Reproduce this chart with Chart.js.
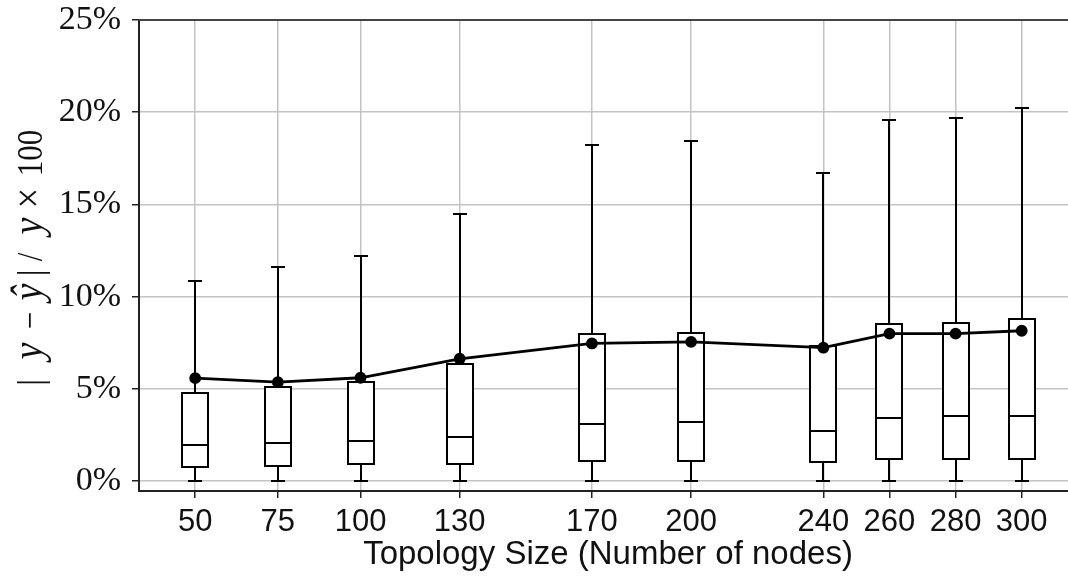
<!DOCTYPE html>
<html>
<head>
<meta charset="utf-8">
<script src="https://cdn.jsdelivr.net/npm/chart.js@4/dist/chart.umd.min.js"></script>
<style>
html,body{margin:0;padding:0;background:#fff;}
#wrap{width:1068px;height:581px;}
</style>
</head>
<body>
<div id="wrap"><canvas id="c" width="1068" height="581"></canvas></div>
<script>
// ---- data ----
const topologySizes = [50, 75, 100, 130, 170, 200, 240, 260, 280, 300];
const xTickLabels = ['50', '75', '100', '130', '170', '200', '240', '260', '280', '300'];
const whiskerLow  = [0, 0, 0, 0, 0, 0, 0, 0, 0, 0];
const q1Values     = [0.78, 0.82, 0.91, 0.94, 1.09, 1.10, 1.05, 1.18, 1.18, 1.20];
const medianValues = [1.97, 2.07, 2.16, 2.41, 3.12, 3.19, 2.74, 3.42, 3.51, 3.55];
const q3Values     = [4.80, 5.11, 5.38, 6.34, 7.97, 8.04, 7.30, 8.53, 8.59, 8.80];
const whiskerHigh  = [10.87, 11.61, 12.19, 14.47, 18.24, 18.44, 16.72, 19.57, 19.71, 20.22];
const meanValues   = [5.58, 5.36, 5.60, 6.63, 7.46, 7.55, 7.23, 7.99, 7.99, 8.15];
const yTickValues  = [0, 5, 10, 15, 20, 25];
const xTitle = 'Topology Size (Number of nodes)';

// ---- style ----
const BOX_W = 26, CAP_W = 14, LINE_W = 2;
const GRID = '#c3c3c3', SPINE = '#222';

const boxPlugin = {
  id: 'boxes',
  beforeDatasetsDraw(chart) {
    const ctx = chart.ctx, xs = chart.scales.x, ys = chart.scales.y;
    ctx.save();
    ctx.strokeStyle = '#000';
    ctx.lineWidth = LINE_W;
    topologySizes.forEach((v, i) => {
      const px = Math.round(xs.getPixelForValue(v));
      const yl = Math.round(ys.getPixelForValue(whiskerLow[i]));
      const y1 = Math.round(ys.getPixelForValue(q1Values[i]));
      const ym = Math.round(ys.getPixelForValue(medianValues[i]));
      const y3 = Math.round(ys.getPixelForValue(q3Values[i]));
      const yh = Math.round(ys.getPixelForValue(whiskerHigh[i]));
      ctx.beginPath();
      ctx.moveTo(px, y3); ctx.lineTo(px, yh);
      ctx.moveTo(px - CAP_W / 2, yh); ctx.lineTo(px + CAP_W / 2, yh);
      ctx.moveTo(px, y1); ctx.lineTo(px, yl);
      ctx.moveTo(px - CAP_W / 2, yl); ctx.lineTo(px + CAP_W / 2, yl);
      ctx.stroke();
      ctx.fillStyle = '#fff';
      ctx.fillRect(px - BOX_W / 2, y3, BOX_W, y1 - y3);
      ctx.strokeRect(px - BOX_W / 2, y3, BOX_W, y1 - y3);
      ctx.beginPath();
      ctx.moveTo(px - BOX_W / 2, ym); ctx.lineTo(px + BOX_W / 2, ym);
      ctx.stroke();
    });
    ctx.restore();
  },
  afterDraw(chart) {
    const ctx = chart.ctx, a = chart.chartArea;
    ctx.save();
    // top spine
    ctx.strokeStyle = '#444';
    ctx.lineWidth = 2;
    ctx.beginPath();
    ctx.moveTo(a.left, a.top); ctx.lineTo(chart.width, a.top);
    ctx.stroke();
    // x title
    ctx.fillStyle = '#111';
    ctx.font = '33px "Liberation Sans", Arial, sans-serif';
    ctx.textAlign = 'center';
    ctx.textBaseline = 'alphabetic';
    ctx.fillText(xTitle, 608, 564);
    // y title with math italics (rotated)
    const segs = [
      {t: '|', i: false, c: 5.5}, {t: 'y', i: true, c: 37}, {t: '−', i: false, c: 67.5},
      {t: 'ŷ', i: true, c: 96}, {t: '|', i: false, c: 115}, {t: '/', i: false, c: 131},
      {t: 'y', i: true, c: 162}, {t: '×', i: false, c: 190}, {t: '100', i: false, c: 235}
    ];
    ctx.translate(42, 388);
    ctx.rotate(-Math.PI / 2);
    ctx.scale(1, 1.18);
    ctx.textAlign = 'center';
    segs.forEach(s => {
      ctx.font = s.i ? 'italic 38px "Liberation Serif", "Times New Roman", serif'
                     : (s.t === '×' ? '36px "Liberation Serif", "Times New Roman", serif'
                                    : '31px "Liberation Serif", "Times New Roman", serif');
      ctx.fillText(s.t, s.c, 0);
    });
    ctx.restore();
  }
};

new Chart(document.getElementById('c'), {
  type: 'line',
  data: {
    datasets: [{
      label: 'mean',
      data: topologySizes.map((v, i) => ({x: v, y: meanValues[i]})),
      borderColor: '#000',
      backgroundColor: '#000',
      borderWidth: 2.8,
      pointRadius: 4.5,
      pointHoverRadius: 4.5,
      pointBackgroundColor: '#000',
      tension: 0
    }]
  },
  options: {
    responsive: false,
    devicePixelRatio: 1,
    animation: false,
    events: [],
    layout: {autoPadding: false, padding: {top: 20, right: 0, left: 0, bottom: 0}},
    plugins: {legend: {display: false}, tooltip: {enabled: false}, title: {display: false}},
    scales: {
      x: {
        type: 'linear',
        min: 33,
        max: 314,
        afterBuildTicks: s => { s.ticks = topologySizes.map(v => ({value: v})); },
        afterFit: s => { s.height = 90; s.paddingLeft = 0; s.paddingRight = 0; },
        ticks: {
          autoSkip: false,
          maxRotation: 0,
          padding: 6,
          color: '#111',
          font: {family: '"Liberation Sans", Arial, sans-serif', size: 31},
          callback: (v) => xTickLabels[topologySizes.indexOf(v)]
        },
        grid: {color: GRID, lineWidth: 1.5, drawTicks: true, tickLength: 7, tickColor: SPINE, tickWidth: 1.5},
        border: {display: true, color: SPINE, width: 2}
      },
      y: {
        type: 'linear',
        min: -0.54,
        max: 25,
        afterBuildTicks: s => { s.ticks = yTickValues.map(v => ({value: v})); },
        afterFit: s => { s.width = 139; s.paddingTop = 0; s.paddingBottom = 0; },
        ticks: {
          padding: 11,
          color: '#111',
          font: {family: '"Liberation Serif", "Times New Roman", serif', size: 34},
          callback: v => v + '%'
        },
        grid: {color: GRID, lineWidth: 1.5, drawTicks: true, tickLength: 7, tickColor: SPINE, tickWidth: 1.5},
        border: {display: true, color: SPINE, width: 2}
      }
    }
  },
  plugins: [boxPlugin]
});
</script>
</body>
</html>
